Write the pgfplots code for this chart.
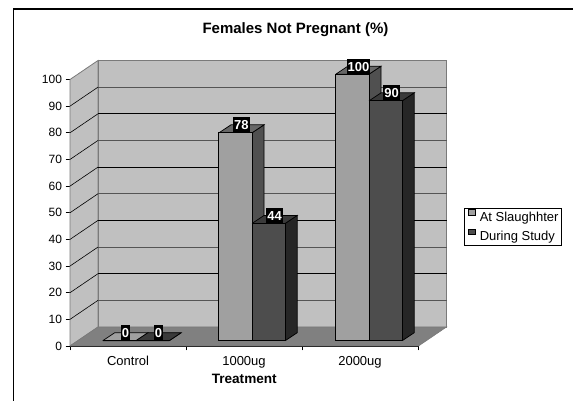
\documentclass[border=0pt]{standalone}
\usepackage{fontspec}
\setmainfont{Liberation Sans}
\usepackage{pgfplots}
\pgfplotsset{compat=1.18}

\definecolor{wallgray}{HTML}{C0C0C0}
\definecolor{floorgray}{HTML}{808080}
\definecolor{edgegray}{HTML}{7A7A7A}
\definecolor{gridgray}{HTML}{555555}
\definecolor{slfront}{HTML}{A0A0A0}
\definecolor{sltop}{HTML}{666666}
\definecolor{slside}{HTML}{505050}
\definecolor{dsfront}{HTML}{4D4D4D}
\definecolor{dstop}{HTML}{3A3A3A}
\definecolor{dsside}{HTML}{262626}

% side and top face of one bar: left x, right x, value, top colour, side colour
\newcommand{\depthfaces}[5]{%
  \pgfmathsetmacro{\xa}{#1+12}%
  \pgfmathsetmacro{\xb}{#2+12}%
  \pgfmathsetmacro{\vb}{#3+3}%
  \addplot[forget plot, yshift=5.3pt, fill=#5, draw=black, line width=0.7pt]
    coordinates {(#2,0) (\xb,3) (\xb,\vb) (#2,#3) (#2,0)};
  \addplot[forget plot, yshift=5.3pt, fill=#4, draw=black, line width=0.7pt]
    coordinates {(#1,#3) (\xa,\vb) (\xb,\vb) (#2,#3) (#1,#3)};
}

\pgfplotsset{
  swatch/.style={legend image code/.code={
    \path (0pt,0pt);
    \draw[##1, line width=0.7pt] (2.7pt,-3.4pt) rectangle (10.2pt,2.2pt);
    \path (12pt,0pt);}},
  valuelabels/.style={
    nodes near coords,
    every node near coord/.append style={
      font=\fontsize{13}{13}\selectfont\bfseries, text=white, fill=black,
      inner xsep=1pt, inner ysep=0pt, minimum height=16pt,
      anchor=center, xshift=6pt, yshift=7.5pt},
  },
}

\begin{document}
\begin{tikzpicture}[x=1pt,y=1pt]
\path[use as bounding box] (0,0) rectangle (573,401);
% chart frame, only top and left are inside the crop
\draw[gray, line width=0.6pt] (13,392.9) -- (573,392.9);
\draw[black, line width=1.2pt] (13.5,0) -- (13.5,392) -- (573,392);

\begin{axis}[
    at={(70pt,55pt)}, anchor=south west,
    scale only axis, width=348.5pt, height=266.5pt,
    xmin=0, xmax=348.5, ymin=0, ymax=100,
    clip=false,
    axis lines=left,
    axis line style={-, black, line width=0.9pt},
    tick style={black, line width=0.8pt},
    major tick length=4.5pt,
    tick align=outside,
    font=\fontsize{12}{14}\selectfont,
    /pgf/number format/assume math mode=true,
    ytick={0,10,...,100},
    xtick={0,116.2,232.3,348.5},
    xticklabels={},
    extra x ticks={58,174,290},
    extra x tick labels={Control,1000ug,2000ug},
    extra x tick style={major tick length=0pt,
      tick label style={yshift=-6.5pt, font=\fontsize{13}{14}\selectfont}},
    every axis title shift=0pt,
    title={Females Not Pregnant (\%)},
    title style={at={(0.647,1.187)}, anchor=center, font=\fontsize{15}{16}\selectfont\bfseries},
    xlabel={Treatment},
    xlabel style={at={(0.5,-0.124)}, anchor=center, font=\fontsize{13.6}{14}\selectfont\bfseries},
    legend style={
      at={(1.1297,0.518)}, anchor=north west,
      draw=black, line width=0.7pt, fill=white,
      inner xsep=1pt, inner ysep=1pt, row sep=4pt,
      font=\fontsize{13}{14}\selectfont,
      legend cell align=left,
    },
]
% walls and floor
\addplot[forget plot, fill=wallgray, draw=edgegray, line width=0.8pt]
  coordinates {(0,0) (28,7.13) (28,107.13) (0,100) (0,0)};
\addplot[forget plot, fill=wallgray, draw=edgegray, line width=0.8pt]
  coordinates {(28,7.13) (376.5,7.13) (376.5,107.13) (28,107.13) (28,7.13)};
\addplot[forget plot, fill=floorgray, draw=edgegray, line width=0.6pt]
  coordinates {(0,0) (348.5,0) (376.5,7.13) (28,7.13) (0,0)};

% gridlines, back wall then side wall
\addplot[forget plot, draw=gridgray, line width=1pt] coordinates {(28,17.13) (376.5,17.13)};
\addplot[forget plot, draw=black, line width=0.6pt] coordinates {(28,27.13) (376.5,27.13)};
\addplot[forget plot, draw=gridgray, line width=1pt] coordinates {(28,37.13) (376.5,37.13)};
\addplot[forget plot, draw=black, line width=0.6pt] coordinates {(28,47.13) (376.5,47.13)};
\addplot[forget plot, draw=gridgray, line width=1pt] coordinates {(28,57.13) (376.5,57.13)};
\addplot[forget plot, draw=black, line width=0.6pt] coordinates {(28,67.13) (376.5,67.13)};
\addplot[forget plot, draw=gridgray, line width=1pt] coordinates {(28,77.13) (376.5,77.13)};
\addplot[forget plot, draw=black, line width=0.6pt] coordinates {(28,87.13) (376.5,87.13)};
\addplot[forget plot, draw=gridgray, line width=1pt] coordinates {(28,97.13) (376.5,97.13)};
\addplot[forget plot, draw=black, line width=0.6pt] coordinates {(0,10) (28,17.13)};
\addplot[forget plot, draw=black, line width=0.6pt] coordinates {(0,20) (28,27.13)};
\addplot[forget plot, draw=black, line width=0.6pt] coordinates {(0,30) (28,37.13)};
\addplot[forget plot, draw=black, line width=0.6pt] coordinates {(0,40) (28,47.13)};
\addplot[forget plot, draw=black, line width=0.6pt] coordinates {(0,50) (28,57.13)};
\addplot[forget plot, draw=black, line width=0.6pt] coordinates {(0,60) (28,67.13)};
\addplot[forget plot, draw=black, line width=0.6pt] coordinates {(0,70) (28,77.13)};
\addplot[forget plot, draw=black, line width=0.6pt] coordinates {(0,80) (28,87.13)};
\addplot[forget plot, draw=black, line width=0.6pt] coordinates {(0,90) (28,97.13)};

% At Slaughhter
\depthfaces{32.8}{66}{0}{slfront}{slside}
\depthfaces{149}{182}{78}{sltop}{slside}
\depthfaces{265.8}{299}{100}{sltop}{slside}
\addplot[ybar, bar width=33.2, bar shift=0, yshift=5.3pt, fill=slfront, draw=black,
    line width=0.7pt, swatch, valuelabels]
  coordinates {(49.4,0) (165.4,78) (282.4,100)};
\addlegendentry{At Slaughhter}

% During Study
\depthfaces{66}{99.2}{0}{dstop}{dsside}
\depthfaces{182}{215.2}{44}{dstop}{dsside}
\depthfaces{299}{332.2}{90}{dstop}{dsside}
\addplot[ybar, bar width=33.2, bar shift=0, yshift=5.3pt, fill=dsfront, draw=black,
    line width=0.7pt, swatch, valuelabels]
  coordinates {(82.6,0) (198.6,44) (315.6,90)};
\addlegendentry{During Study}
\end{axis}
\end{tikzpicture}
\end{document}
